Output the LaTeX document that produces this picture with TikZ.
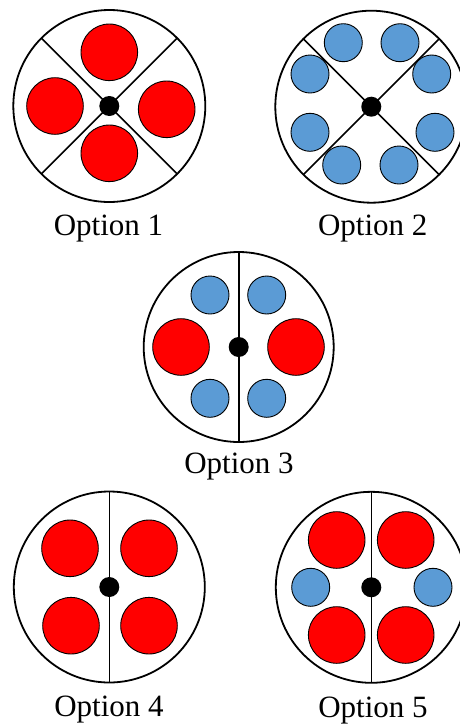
\documentclass[tikz,border=0pt]{standalone}
\usepackage{fontspec}
\setmainfont{Liberation Serif}
\definecolor{redball}{HTML}{FF0000}
\definecolor{blueball}{HTML}{5B9BD5}
\begin{document}
\begin{tikzpicture}[x=1pt,y=-1pt,
  rim/.style={draw=black, line width=1.8pt},
  divider/.style={draw=black, line width=1.6pt},
  bigball/.style={fill=redball, draw=black, line width=0.9pt},
  smallball/.style={fill=blueball, draw=black, line width=0.9pt},
  hub/.style={fill=black},
  caption/.style={font=\fontsize{31}{31}\selectfont, anchor=base, inner sep=0pt}]
\useasboundingbox (0,0) rectangle (459,724);

% Option 1: four quadrants, one large ball in each
\begin{scope}[shift={(109.3,106)}]
  \coordinate (c1) at (0,0);
  \draw[rim] (c1) circle (96pt);
  \draw[divider] (-67.9,-67.9) -- (67.9,67.9);
  \draw[divider] (67.9,-67.9) -- (-67.9,67.9);
  \foreach \p in {(0,-53.7),(-54.3,0),(57.4,3.3),(0,47.3)}
    \draw[bigball] \p circle (28.3pt);
  \fill[hub] (c1) circle (10pt);
\end{scope}
\node[caption] (t1) at (108.5,235) {Option 1};

% Option 2: four quadrants, two small balls in each
\begin{scope}[shift={(371.3,106.7)}]
  \coordinate (c2) at (0,0);
  \draw[rim] (c2) circle (96pt);
  \draw[divider] (-67.9,-67.9) -- (67.9,67.9);
  \draw[divider] (67.9,-67.9) -- (-67.9,67.9);
  \foreach \p in {(-28,-64),(28.7,-64),(-61.3,-32.7),(60.4,-32.7),
                  (-61.3,25.6),(63.7,25.6),(-29.6,58.3),(27.7,58.3)}
    \draw[smallball] \p circle (19pt);
  \fill[hub] (c2) circle (10pt);
\end{scope}
\node[caption] (t2) at (372.7,235) {Option 2};

% Option 3: two halves, mixed balls
\begin{scope}[shift={(238.7,347)}]
  \coordinate (c3) at (0,0);
  \draw[rim] (c3) circle (95pt);
  \draw[divider] (0,-95) -- (0,95);
  \foreach \p in {(-57.7,0),(57.3,0)}
    \draw[bigball] \p circle (28.3pt);
  \foreach \p in {(-28.7,-52),(28,-52),(-28.7,51.3),(28,51.3)}
    \draw[smallball] \p circle (19pt);
  \fill[hub] (c3) circle (10pt);
\end{scope}
\node[caption] (t3) at (239,473.3) {Option 3};

% Option 4: two halves, two large balls in each
\begin{scope}[shift={(109.3,587)}]
  \coordinate (c4) at (0,0);
  \draw[rim] (c4) circle (95.5pt);
  \draw[divider] (0,-95.5) -- (0,95.5);
  \foreach \p in {(-39.3,-38.7),(39.7,-38.7),(-38.3,38.7),(39.7,38.7)}
    \draw[bigball] \p circle (28.3pt);
  \fill[hub] (c4) circle (10pt);
\end{scope}
\node[caption] (t4) at (109,716.7) {Option 4};

% Option 5: two halves, two large and one small ball in each
\begin{scope}[shift={(371.3,587.3)}]
  \coordinate (c5) at (0,0);
  \draw[rim] (c5) circle (95.5pt);
  \draw[divider] (0,-95.5) -- (0,95.5);
  \foreach \p in {(-34.6,-47.3),(34.4,-47.3),(-34.6,47.7),(34.4,47.7)}
    \draw[bigball] \p circle (28.3pt);
  \foreach \p in {(-60.6,0),(61.7,0)}
    \draw[smallball] \p circle (19pt);
  \fill[hub] (c5) circle (10pt);
\end{scope}
\node[caption] (t5) at (373,717.5) {Option 5};
\end{tikzpicture}
\end{document}
